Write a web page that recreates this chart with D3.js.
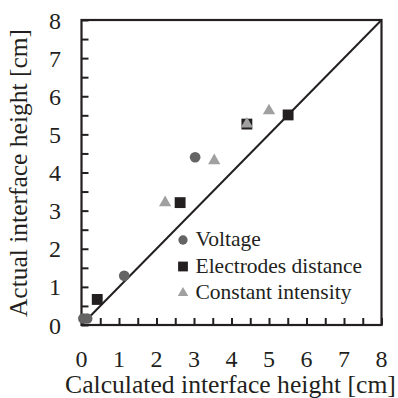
<!DOCTYPE html>
<html><head><meta charset="utf-8">
<script src="https://cdn.jsdelivr.net/npm/d3@7"></script>
<style>body{margin:0;background:#fff}svg{display:block}text{font-family:"Liberation Serif","Times New Roman",serif;fill:#231f20}</style>
</head><body><svg id="c" width="398" height="398"></svg>
<script>
const voltageX = [0.05, 0.15, 1.14, 3.03];
const voltageY = [0.17, 0.17, 1.29, 4.40];
const electrodesX = [0.42, 2.63, 4.41, 5.51];
const electrodesY = [0.67, 3.21, 5.27, 5.51];
const intensityX = [2.23, 3.54, 4.41, 5.00];
const intensityY = [3.21, 4.31, 5.27, 5.62];
const tickValues = [0,1,2,3,4,5,6,7,8];
const seriesNames = ["Voltage", "Electrodes distance", "Constant intensity"];
const xTitle = "Calculated interface height [cm]";
const yTitle = "Actual interface height [cm]";

const svg = d3.select("#c");
const L = 81.5, R = 381.5, T = 20, B = 325;
const x = d3.scaleLinear().domain([0,8]).range([L,R]);
const y = d3.scaleLinear().domain([0,8]).range([B,T]);
const ink = "#231f20";

// frame
svg.append("rect").attr("x",L).attr("y",T).attr("width",R-L).attr("height",B-T)
  .attr("fill","none").attr("stroke",ink).attr("stroke-width",2.2);

const minor = d3.range(0,8.01,0.5);
const xAx = svg.append("g").attr("transform",`translate(0,${B})`)
  .call(d3.axisBottom(x).tickValues(minor).tickSize(-7).tickFormat(""));
xAx.select(".domain").remove();
xAx.selectAll("line").attr("stroke",ink).attr("stroke-width",2);
const yAx = svg.append("g").attr("transform",`translate(${L},0)`)
  .call(d3.axisLeft(y).tickValues(minor).tickSize(-7).tickFormat(""));
yAx.select(".domain").remove();
yAx.selectAll("line").attr("stroke",ink).attr("stroke-width",2);

// tick labels
svg.append("g").selectAll("text").data(tickValues).join("text")
  .attr("x",d=>x(d)).attr("y",366.5).attr("text-anchor","middle")
  .attr("font-size",24).text(d=>d);
svg.append("g").selectAll("text").data(tickValues).join("text")
  .attr("x",61).attr("y",d=>y(d)+8.5).attr("text-anchor","end")
  .attr("font-size",24).text(d=>d);

// titles
const xt = svg.append("text").attr("x",230.5).attr("y",393).attr("text-anchor","middle")
  .attr("font-size",25.5).text(xTitle);
const w = xt.node().getComputedTextLength();
if (w > 0) xt.attr("font-size", 25.5 * 331 / w);
svg.append("text").attr("transform","translate(27,173) rotate(-90)").attr("text-anchor","middle")
  .attr("font-size",25.5).text(yTitle);

// diagonal
svg.append("line").attr("x1",x(0)).attr("y1",y(0)).attr("x2",x(8)).attr("y2",y(8))
  .attr("stroke",ink).attr("stroke-width",2);

const cCol = "#646464", sCol = "#231f20", tCol = "#a0a0a0";
const sym = (type,size)=>d3.symbol().type(type).size(size)();

svg.append("g").selectAll("path").data(voltageX.map((v,i)=>[v,voltageY[i]])).join("path")
  .attr("d",sym(d3.symbolCircle,90)).attr("fill",cCol)
  .attr("transform",d=>`translate(${x(d[0])},${y(d[1])})`);
svg.append("g").selectAll("path").data(electrodesX.map((v,i)=>[v,electrodesY[i]])).join("path")
  .attr("d",sym(d3.symbolSquare,118)).attr("fill",sCol)
  .attr("transform",d=>`translate(${x(d[0])},${y(d[1])})`);
svg.append("g").selectAll("path").data(intensityX.map((v,i)=>[v,intensityY[i]])).join("path")
  .attr("d",sym(d3.symbolTriangle,65)).attr("fill",tCol)
  .attr("transform",d=>`translate(${x(d[0])},${y(d[1])})`);

// legend
const lg = svg.append("g");
const types = [[d3.symbolCircle,68,cCol],[d3.symbolSquare,96,sCol],[d3.symbolTriangle,48,tCol]];
seriesNames.forEach((n,i)=>{
  const yy = 240 + i*26.5;
  lg.append("path").attr("d",sym(types[i][0],types[i][1])).attr("fill",types[i][2])
    .attr("transform",`translate(183,${yy})`);
  lg.append("text").attr("x",195.5).attr("y",yy+6).attr("font-size",21.5).text(n);
});
</script></body></html>
